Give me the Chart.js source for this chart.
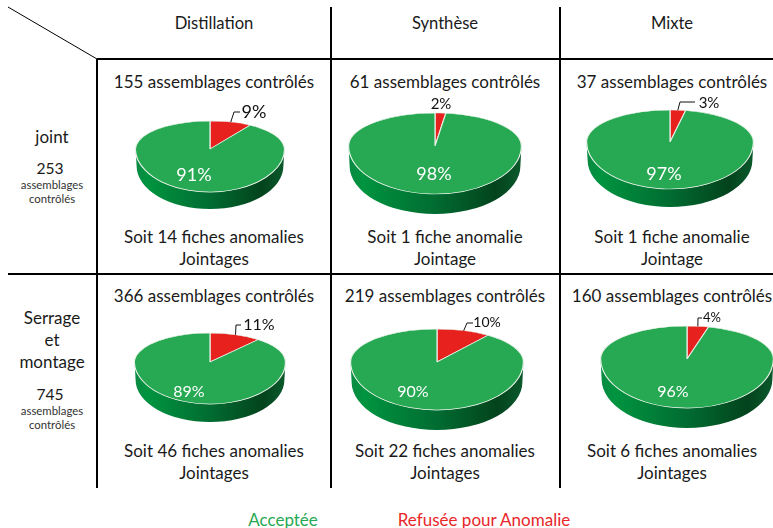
<!DOCTYPE html>
<html lang="fr">
<head>
<meta charset="utf-8">
<title>Assemblages contrôlés</title>
<script src="https://cdn.jsdelivr.net/npm/chart.js@4"></script>
<style>
  html, body { margin: 0; padding: 0; background: #fff; }
  body { position: relative; width: 773px; height: 528px; overflow: hidden; font-family: Lato, sans-serif; color: #1a1a1a; }
  canvas { position: absolute; }
  svg { position: absolute; left: 0; top: 0; }
  .t { position: absolute; transform: translate(-50%, -50%); white-space: nowrap; font-size: 17px; line-height: 1; }
  .head { font-size: 16.6px; }
  .total { font-size: 15.6px; }
  .small { font-size: 11.4px; color: #333; }
</style>
</head>
<body>
<svg width="773" height="528">
  <g stroke="#000" stroke-width="2" fill="none">
    <path d="M97 59V488M331 7V488M560 7V488M97 59H773M8 274H773"/>
    <path d="M8 7L97 59" stroke-width="1"/>
  </g>
</svg>
<script>
// ── Data ───────────────────────────────────────────────
const categories = ['Distillation', 'Synthèse', 'Mixte'];
const rowLabels = [['joint'], ['Serrage', 'et', 'montage']];
const rowTotals = [253, 745];
const controles = [155, 61, 37, 366, 219, 160];
const fiches = [14, 1, 1, 46, 22, 6];
const acceptee = [91, 98, 97, 89, 90, 96];
const refusee = [9, 2, 3, 11, 10, 4];

// ── Layout (px): apex, radius, squash above/below apex, wall depth ──
const pieBoxes = [
  { x: 210, y: 149, r: 74, up: 28, down: 43, depth: 17 },
  { x: 435, y: 146, r: 86, up: 33, down: 48, depth: 20 },
  { x: 670, y: 142, r: 83, up: 32, down: 47, depth: 18 },
  { x: 210, y: 362, r: 75, up: 29, down: 42, depth: 18 },
  { x: 437, y: 362, r: 86, up: 33, down: 48, depth: 20 },
  { x: 687, y: 359, r: 86, up: 33, down: 49, depth: 20 },
];
// label offsets from apex; leader = elbow and end offsets, null when there is none
const pieLabels = [
  { in: [-16, 26, 18], out: [44, -37, 18], leader: [[24, -37], [30, -37]] },
  { in: [-1, 28, 18], out: [6, -42, 15], leader: null },
  { in: [-6, 32, 18], out: [39, -39, 15], leader: [[10, -40], [25, -40]] },
  { in: [-21, 30, 16], out: [49, -37, 16], leader: [[26, -37], [31, -37]] },
  { in: [-24, 30, 16], out: [50, -40, 14], leader: [[30, -39], [36, -39]] },
  { in: [-14, 33, 16], out: [25, -41, 13], leader: [[11, -41], [15, -41]] },
];

const GREEN = '#27a853';
const RED = '#e6211e';

// ── Text ───────────────────────────────────────────────
function addText(txt, x, y, cls, style) {
  const el = document.createElement('div');
  el.className = 't' + (cls ? ' ' + cls : '');
  el.textContent = txt;
  el.style.left = x + 'px';
  el.style.top = y + 'px';
  if (style) Object.assign(el.style, style);
  document.body.appendChild(el);
}

const colCenters = [214, 445, 672];
categories.forEach((c, i) => addText(c, colCenters[i], 23, 'head'));

addText(rowLabels[0][0], 52, 136);
addText(rowTotals[0], 50, 169, 'total');
addText('assemblages', 52, 185, 'small');
addText('contrôlés', 52, 199, 'small');
rowLabels[1].forEach((s, i) => addText(s, 52, 317 + i * 22));
addText(rowTotals[1], 50, 395, 'total');
addText('assemblages', 52, 411, 'small');
addText('contrôlés', 52, 425, 'small');

controles.forEach((n, i) => {
  const row = i < 3 ? 0 : 1;
  const x = colCenters[i % 3];
  const base = row === 0 ? 0 : 214;
  addText(n + ' assemblages contrôlés', x, 81 + base);
  const plural = fiches[i] > 1;
  addText(`Soit ${fiches[i]} ${plural ? 'fiches anomalies' : 'fiche anomalie'}`, x, 236 + base);
  addText(plural ? 'Jointages' : 'Jointage', x, 258 + base);
});

addText('Acceptée', 283, 519, '', { color: GREEN });
addText('Refusée pour Anomalie', 484, 519, '', { color: '#e8262a' });

// ── Pie plugin: squashes the arcs and adds the wall ─────
const pie3d = {
  id: 'pie3d',
  beforeDatasetDraw(chart, args) {
    const { ctx, width, height } = chart;
    const box = pieBoxes[chart.options.plugins.pie3d.idx];
    const arc = args.meta.data[0];
    const cx = arc.x, cy = arc.y, r = arc.outerRadius;
    const sUp = box.up / r, sDown = box.down / r;

    // wall under the lower half
    const grad = ctx.createLinearGradient(cx - r, 0, cx + r, 0);
    grad.addColorStop(0, '#0a8a42');
    grad.addColorStop(0.08, '#009440');
    grad.addColorStop(0.5, '#016c31');
    grad.addColorStop(0.85, '#03431d');
    grad.addColorStop(1, '#0b5a2c');
    ctx.save();
    ctx.beginPath();
    ctx.ellipse(cx, cy, r, box.down, 0, Math.PI, 0, true);
    ctx.lineTo(cx + r - 1, cy + box.depth);
    ctx.ellipse(cx, cy + box.depth, r - 1, box.down, 0, 0, Math.PI, false);
    ctx.closePath();
    ctx.fillStyle = grad;
    ctx.fill();
    ctx.restore();

    // top face, library arcs drawn twice with a different squash
    const seam = Math.round(cy);
    [[sDown, seam, height - seam], [sUp, 0, seam]].forEach(([s, clipY, clipH]) => {
      ctx.save();
      ctx.beginPath();
      ctx.rect(0, clipY, width, clipH);
      ctx.clip();
      ctx.translate(cx, cy);
      ctx.scale(1, s);
      ctx.translate(-cx, -cy);
      args.meta.controller.draw();
      ctx.restore();
    });
    return false;
  },
  afterDatasetsDraw(chart) {
    const { ctx } = chart;
    const idx = chart.options.plugins.pie3d.idx;
    const box = pieBoxes[idx];
    const lab = pieLabels[idx];
    const red = chart.getDatasetMeta(0).data[0];
    const cx = red.x, cy = red.y, r = red.outerRadius;
    const mid = (red.startAngle + red.endAngle) / 2;
    ctx.save();
    ctx.textAlign = 'center';
    ctx.textBaseline = 'middle';
    ctx.font = `${lab.in[2]}px Lato, sans-serif`;
    ctx.fillStyle = '#fff';
    ctx.fillText(acceptee[idx] + '%', cx + lab.in[0], cy + lab.in[1]);
    ctx.font = `${lab.out[2]}px Lato, sans-serif`;
    ctx.fillStyle = '#111';
    ctx.fillText(refusee[idx] + '%', cx + lab.out[0], cy + lab.out[1]);
    if (lab.leader) {
      ctx.strokeStyle = '#111';
      ctx.lineWidth = 1;
      ctx.beginPath();
      ctx.moveTo(cx + r * Math.cos(mid), cy + box.up * Math.sin(mid));
      lab.leader.forEach(p => ctx.lineTo(cx + p[0], cy + p[1]));
      ctx.stroke();
    }
    ctx.restore();
  },
};

// ── Charts ─────────────────────────────────────────────
pieBoxes.forEach((box, i) => {
  const side = box.r * 2 + 2;
  const canvas = document.createElement('canvas');
  canvas.width = side;
  canvas.height = side;
  canvas.style.left = (box.x - side / 2) + 'px';
  canvas.style.top = (box.y - side / 2) + 'px';
  canvas.style.width = side + 'px';
  canvas.style.height = side + 'px';
  document.body.appendChild(canvas);
  new Chart(canvas, {
    type: 'pie',
    data: {
      labels: ['Refusée pour Anomalie', 'Acceptée'],
      datasets: [{
        data: [refusee[i], acceptee[i]],
        backgroundColor: [RED, GREEN],
        borderColor: '#e6f1e6',
        borderWidth: 1.2,
      }],
    },
    options: {
      responsive: false,
      animation: false,
      layout: { padding: 0 },
      plugins: { legend: { display: false }, tooltip: { enabled: false }, pie3d: { idx: i } },
    },
    plugins: [pie3d],
  });
});
</script>
</body>
</html>
